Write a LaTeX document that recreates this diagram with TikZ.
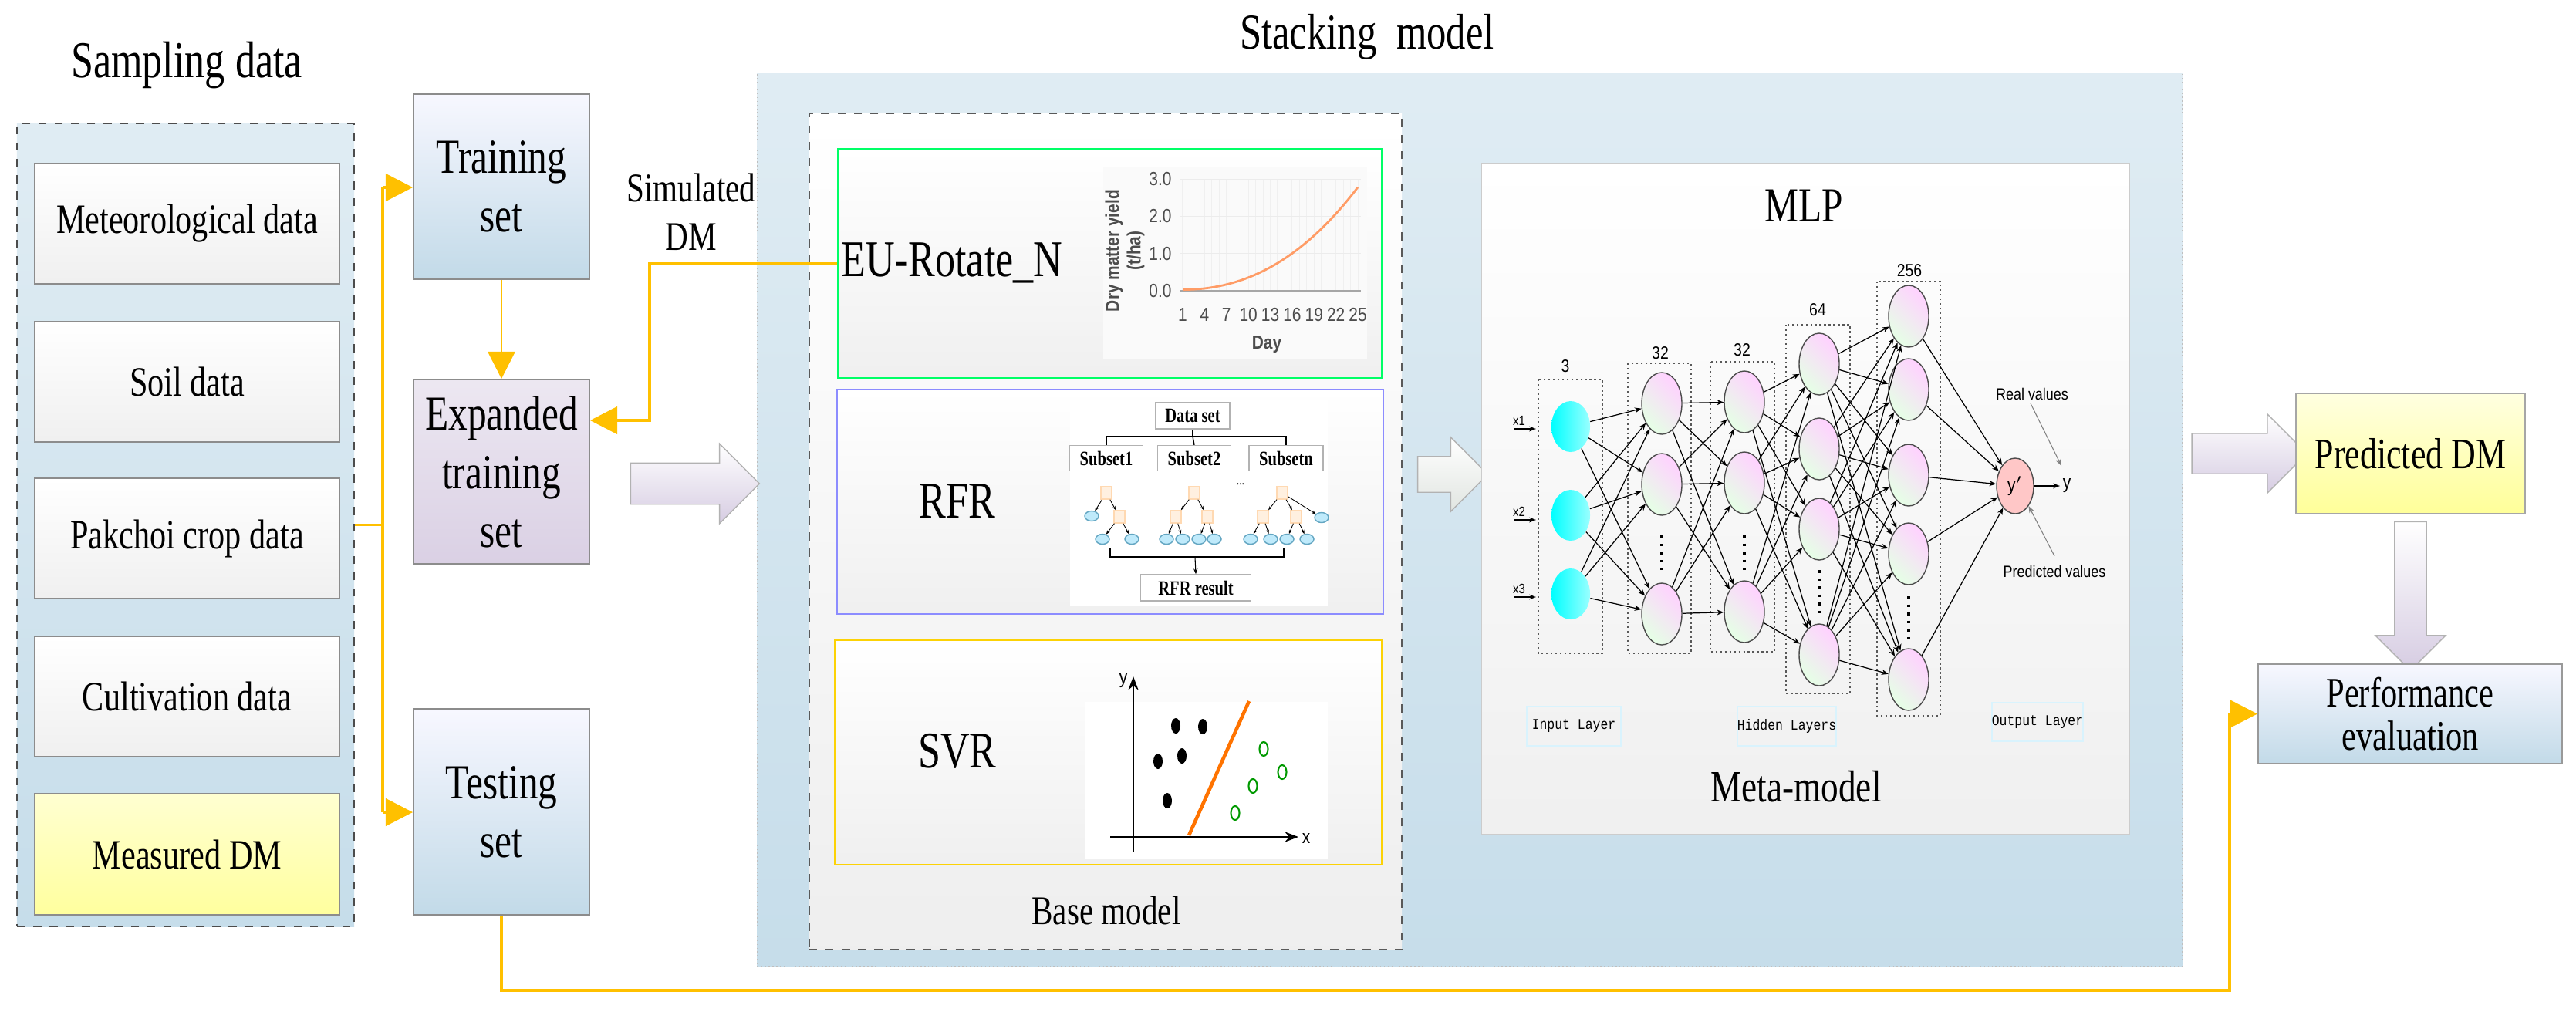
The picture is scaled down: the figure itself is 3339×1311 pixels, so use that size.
\documentclass[tikz,border=0pt]{standalone}
\usepackage{fontspec}
\setmainfont{Liberation Serif}[FakeStretch=0.78]
\newfontfamily\sansf{Liberation Sans}[FakeStretch=0.85]
\newfontfamily\monof{Liberation Mono}[FakeStretch=0.85]
\usetikzlibrary{shapes.geometric,shapes.arrows,arrows.meta}
\definecolor{gold}{HTML}{FFC000}
\definecolor{bluebg}{HTML}{C6DDEA}
\definecolor{lblue}{HTML}{C2DAE8}
\definecolor{lpurp}{HTML}{DAD0E4}
\definecolor{barr}{HTML}{D6CCE2}
\tikzset{
 fs/.style={font=\fontsize{#1}{\dimexpr #1pt*6/5\relax}\selectfont},
 dbox/.style={draw=gray!70!black,dashed,line width=0.6pt},
 gbox/.style={draw=gray!90,line width=0.5pt,top color=white,bottom color=gray!12,inner sep=0pt,align=center,fs=15.4},
 sbox/.style={draw=gray!90,line width=0.5pt,top color=blue!3!white,bottom color=lblue,inner sep=0pt,align=center,fs=18},
 oline/.style={draw=gold,line width=1.1pt},
 oarr/.style={oline,-{Triangle[length=10pt,width=10pt]}},
 barrow/.style={single arrow,draw=gray!60,top color=white,bottom color=barr,inner sep=0pt,outer sep=0pt},
 neu/.style={ellipse,draw=gray!60!black,line width=0.4pt,inner sep=0pt,minimum width=0.52cm,minimum height=0.8cm,left color=magenta!18,right color=green!10,shading angle=-45},
 inn/.style={ellipse,inner sep=0pt,minimum width=0.5cm,minimum height=0.66cm,left color=cyan,right color=cyan!40},
 ed/.style={line width=0.35pt,-{Stealth[length=2.5pt,width=2pt]}},
 ldot/.style={draw=gray!70!black,densely dotted,line width=0.7pt},
 tsq/.style={rectangle,draw=orange!30,fill=orange!12,minimum width=0.14cm,minimum height=0.16cm,inner sep=0pt},
 tel/.style={ellipse,draw=cyan!50!gray,fill=cyan!25,minimum width=0.18cm,minimum height=0.13cm,inner sep=0pt},
 tbox/.style={rectangle,draw=gray!60,fill=white,inner sep=0pt,font=\bfseries\fontsize{7.5}{7.5}\selectfont},
 lbox/.style={rectangle,draw=cyan!15,line width=0.6pt,inner sep=0pt,font=\monof\fontsize{5.5}{5.5}\selectfont},
 small/.style={font=\sansf\fontsize{#1}{#1}\selectfont}
}
\begin{document}
\begin{tikzpicture}[x=0.01cm,y=-0.01cm]
\useasboundingbox (0,0) rectangle (3339,1311);
\fill[white] (0,0) rectangle (3339,1311);
% titles
\node[fs=19] (t1) at (242,85) {Sampling data};
\node[fs=18.5] (t2) at (1772,48) {Stacking\ \ model};
% sampling box
\node[dbox,draw=gray!60!black,top color=bluebg!55,bottom color=bluebg,minimum width=4.37cm,minimum height=10.41cm,inner sep=0pt] (samp) at (240.5,680.5) {};
\node[gbox,minimum width=3.95cm,minimum height=1.56cm] (met) at (242.5,290) {Meteorological data};
\node[gbox,minimum width=3.95cm,minimum height=1.56cm] (soil) at (242.5,495) {Soil data};
\node[gbox,minimum width=3.95cm,minimum height=1.56cm] (pak) at (242.5,698) {Pakchoi crop data};
\node[gbox,minimum width=3.95cm,minimum height=1.56cm] (cul) at (242.5,903) {Cultivation data};
\node[gbox,top color=yellow!18,bottom color=yellow!38,minimum width=3.95cm,minimum height=1.57cm] (mdm) at (242.5,1107.5) {Measured DM};
% sets
\node[sbox,minimum width=2.28cm,minimum height=2.4cm] (train) at (650,242) {Training\\set};
\node[sbox,top color=white!50!lpurp,bottom color=lpurp,minimum width=2.28cm,minimum height=2.39cm] (exp) at (650,611.5) {Expanded\\training\\set};
\node[sbox,minimum width=2.28cm,minimum height=2.67cm] (test) at (650,1052.5) {Testing\\set};
\node[fs=15,align=center] (sim) at (896,275) {Simulated\\DM};
% stacking box
\node[draw=gray!50,densely dotted,top color=bluebg!55,bottom color=bluebg,minimum width=18.46cm,minimum height=11.58cm,inner sep=0pt] (stack) at (1905,674) {};
\node[dbox,top color=white,bottom color=gray!13,minimum width=7.68cm,minimum height=10.84cm,inner sep=0pt] (base) at (1433,689) {};
\node[fs=15] (bm) at (1434,1180) {Base model};
% EU box
\node[draw=green!60!cyan,line width=0.6pt,top color=white,bottom color=gray!12,minimum width=7.05cm,minimum height=2.97cm,inner sep=0pt] (eu) at (1438.5,341.5) {};
\fill[white!96!gray] (1430,216) rectangle (1772,465);
\foreach \d in {1,...,25}{\draw[gray!12,line width=0.3pt] ({1533+9.46*(\d-1)},232) -- ({1533+9.46*(\d-1)},377);}
\foreach \v in {1,2,3}{\draw[gray!15,line width=0.3pt] (1530,{377-48.3*\v}) -- (1764,{377-48.3*\v});}
\draw[gray!70,line width=0.4pt] (1530,377) -- (1764,377);
\draw[orange!70!red!60,line width=0.8pt] plot[domain=0:1,samples=40] ({1533+227*\x},{377-48.3*(0.03+2.75*\x*\x*(0.75+0.25*\x))});
\foreach \v in {0,1,2,3}{\node[small=7,gray!60!black] at (1504,{377-48.3*\v}) {\v.0};}
\foreach \d in {1,4,7,10,13,16,19,22,25}{\node[small=7,gray!60!black] at ({1533+9.46*(\d-1)},408) {\d};}
\node[font=\sansf\bfseries\fontsize{7}{7}\selectfont,gray!60!black] at (1642,447) {Day};
\node[font=\sansf\bfseries\fontsize{7}{8}\selectfont,gray!60!black,rotate=90,align=center] at (1458,325) {Dry matter yield\\(t/ha)};
\node[fs=19] (eut) at (1234,341) {EU-Rotate\_N};
% RFR box
\node[draw=blue!45,line width=0.6pt,top color=white,bottom color=gray!12,minimum width=7.08cm,minimum height=2.91cm,inner sep=0pt] (rfr) at (1439,650.5) {};
\fill[white] (1387,519) rectangle (1721,785);
\node[fs=19] (rfrt) at (1241,650) {RFR};
\node[tbox,minimum width=0.96cm,minimum height=0.34cm] (ds) at (1546,539) {Data set};
\node[tbox,minimum width=0.95cm,minimum height=0.33cm] (s1) at (1434,594) {Subset1};
\node[tbox,minimum width=0.95cm,minimum height=0.33cm] (s2) at (1548,594) {Subset2};
\node[tbox,minimum width=0.96cm,minimum height=0.33cm] (sn) at (1667,594) {Subsetn};
\node[tbox,minimum width=1.43cm,minimum height=0.34cm] (rr) at (1550,762) {RFR result};
\draw[line width=0.4pt] (ds.south) -- (1546,566);
\draw[line width=0.4pt] (s1.north) -- (1434,566) -- (1667,566) -- (sn.north);
\draw[line width=0.4pt] (1546,566) -- (s2.north);
\draw[line width=0.3pt] (1439,710) -- (1439,722) -- (1664,722) -- (1664,710);
\draw[line width=0.3pt,-{Stealth[length=2pt]}] (1549,722) -- (rr.north);
\node at (1608,628) {\fontsize{5}{5}\selectfont ...};
\node[tsq] (a0) at (1434,639) {}; \node[tel] (a1) at (1415,669) {}; \node[tsq] (a2) at (1451,670) {};
\node[tel] (a3) at (1429,699) {}; \node[tel] (a4) at (1467,699) {};
\foreach \p/\q in {a0/a1,a0/a2,a2/a3,a2/a4}{\draw[line width=0.25pt,-{Stealth[length=1.5pt]}] (\p) -- (\q);}
\node[tsq] (b0) at (1548,639) {}; \node[tsq] (b1) at (1524,670) {}; \node[tsq] (b2) at (1565,670) {};
\node[tel] (b3) at (1512,699) {}; \node[tel] (b4) at (1533,699) {}; \node[tel] (b5) at (1554,699) {}; \node[tel] (b6) at (1574,699) {};
\foreach \p/\q in {b0/b1,b0/b2,b1/b3,b1/b4,b2/b5,b2/b6}{\draw[line width=0.25pt,-{Stealth[length=1.5pt]}] (\p) -- (\q);}
\node[tsq] (c0) at (1662,639) {}; \node[tsq] (c1) at (1637,670) {}; \node[tsq] (c2) at (1680,670) {}; \node[tel] (c7) at (1713,671) {};
\node[tel] (c3) at (1621,699) {}; \node[tel] (c4) at (1647,699) {}; \node[tel] (c5) at (1668,699) {}; \node[tel] (c6) at (1694,699) {};
\foreach \p/\q in {c0/c1,c0/c2,c0/c7,c1/c3,c1/c4,c2/c5,c2/c6}{\draw[line width=0.25pt,-{Stealth[length=1.5pt]}] (\p) -- (\q);}
% SVR box
\node[draw=yellow!70!orange,line width=0.6pt,top color=white,bottom color=gray!12,minimum width=7.09cm,minimum height=2.91cm,inner sep=0pt] (svr) at (1436.5,975.5) {};
\fill[white] (1406,910) rectangle (1721,1113);
\node[fs=19] (svrt) at (1241,974) {SVR};
\draw[line width=0.7pt,-{Stealth[length=5pt]}] (1469,1104) -- (1469,877);
\draw[line width=0.7pt,-{Stealth[length=5pt]}] (1439,1085) -- (1683,1085);
\node[small=7] at (1456,883) {y};
\node[small=7] at (1693,1087) {x};
\foreach \p in {(1524,941),(1559,942),(1501,987),(1532,980),(1513,1038)}{\fill \p ellipse (6 and 10);}
\foreach \p in {(1638,971),(1662,1001),(1624,1019),(1601,1054)}{\draw[green!60!black,line width=0.6pt] \p ellipse (5.5 and 9);}
\draw[orange!90!red,line width=1.3pt] (1541,1083) -- (1619,909);
% block arrows
\node[barrow,minimum height=1.67cm,minimum width=1.03cm] (ar1) at (887.5,627) {\rule{0pt}{0.52cm}};
\node[barrow,minimum height=0.91cm,minimum width=0.89cm,top color=white,bottom color=green!8!gray!22] (ar2) at (1871.5,615) {\rule{0pt}{0.45cm}};
\node[barrow,minimum height=1.49cm,minimum width=1.02cm] (ar3) at (2902.5,588) {\rule{0pt}{0.51cm}};
\node[barrow,rotate=-90,minimum height=1.93cm,minimum width=0.79cm] (ar4) at (3124.5,762.5) {\rule{0pt}{0.4cm}};
% MLP box
\node[draw=gray!40,top color=white,bottom color=gray!12,minimum width=8.39cm,minimum height=8.69cm,inner sep=0pt] (mlp) at (2340.5,646.5) {};
\node[fs=18] (mlpt) at (2338,267) {MLP};
\node[fs=16.5] (meta) at (2328,1020) {Meta-model};
% layer boxes
\draw[ldot] (1994,492) rectangle (2077,847);
\draw[ldot] (2110,471) rectangle (2192,847);
\draw[ldot] (2217,469) rectangle (2300,845);
\draw[ldot] (2315,421) rectangle (2398,899);
\draw[ldot] (2433,365) rectangle (2515,928);
\foreach \t/\x/\y in {3/2029/475,32/2152/458,32/2258/454,64/2356/402,256/2475/351}{\node[small=6.5] at (\x,\y) {\t};}
\foreach \y [count=\i] in {553,668,770}{\node[inn] (A\i) at (2036,\y) {};}
\foreach \y [count=\i] in {523,628,796}{\node[neu] (B\i) at (2154,\y) {};}
\foreach \y [count=\i] in {521,626,793}{\node[neu] (C\i) at (2261,\y) {};}
\foreach \y [count=\i] in {472,582,686,849}{\node[neu] (D\i) at (2358,\y) {};}
\foreach \y [count=\i] in {410,505,616,718,881}{\node[neu] (E\i) at (2474,\y) {};}
\node[ellipse,draw=gray!60!black,fill=red!22,inner sep=0pt,minimum width=0.48cm,minimum height=0.72cm,small=7] (Y) at (2612,630) {y$'$};
\foreach \i in {1,2,3}{\foreach \j in {1,2,3}{\draw[ed] (A\i) -- (B\j);}}
\foreach \i in {1,2,3}{\foreach \j in {1,2,3}{\draw[ed] (B\i) -- (C\j);}}
\foreach \i in {1,2,3}{\foreach \j in {1,2,3,4}{\draw[ed] (C\i) -- (D\j);}}
\foreach \i in {1,2,3,4}{\foreach \j in {1,2,3,4,5}{\draw[ed] (D\i) -- (E\j);}}
\foreach \i in {1,2,3,4,5}{\draw[ed] (E\i) -- (Y);}
\foreach \x/\a/\b in {2154/694/739,2261/694/739,2358/739/795,2474/773/829}{\draw[line width=1pt,dotted] (\x,\a) -- (\x,\b);}
\foreach \y/\n [count=\i] in {556/1,674/2,774/3}{
 \node[small=5] (xl\i) at (1969,{\y-11}) {x\n};
 \coordinate (xs\i) at (1963,\y);
 \draw[line width=0.5pt,-{Stealth[length=2.5pt]}] (xs\i) -- (1991,\y);}
\coordinate (yend) at (2670,630);
\draw[line width=0.5pt,-{Stealth[length=2.5pt]}] (Y) -- (yend);
\node[small=7] (yl) at (2679,630) {y};
\node[small=6] (rv) at (2634,511) {Real values};
\node[small=6] (pv) at (2663,741) {Predicted values};
\coordinate (rva) at (2672,604);
\draw[gray,line width=0.3pt,-{Stealth[length=2.5pt]}] (2632,523) -- (rva);
\draw[gray,line width=0.3pt,-{Stealth[length=2.5pt]}] (pv.north) -- (Y.south east);
\node[lbox,minimum width=1.22cm,minimum height=0.51cm] (il) at (2040,941.5) {Input Layer};
\node[lbox,minimum width=1.18cm,minimum height=0.51cm] (hl) at (2316,941.5) {Hidden Layers};
\node[lbox,minimum width=1.07cm,minimum height=0.5cm] (ol) at (2641,936) {Output Layer};
% outputs
\node[draw=gray!70,top color=yellow!12,bottom color=yellow!40,minimum width=2.97cm,minimum height=1.56cm,inner sep=0pt,fs=16] (pdm) at (3124.5,588) {Predicted DM};
\node[draw=gray!80,line width=0.5pt,top color=blue!3!white,bottom color=lblue,minimum width=3.94cm,minimum height=1.29cm,inner sep=0pt,align=center,font=\fontsize{15.5}{16}\selectfont] (perf) at (3124,925.5) {Performance\\evaluation};
% orange connectors
\coordinate (j0) at (496,680.5);
\coordinate (j1) at (496,243);
\coordinate (j2) at (496,1053);
\draw[oline] (samp.east) -- (j0);
\draw[oline] (j1) -- (j2);
\draw[oarr] (j1) -- (j1 -| train.west);
\draw[oarr] (j2) -- (j2 -| test.west);
\draw[oarr,line width=0.8pt] (train.south) -- (exp.north);
\coordinate (k1) at (842,545);
\draw[oarr] (eu.west) -| (k1) -- (k1 -| exp.east);
\coordinate (k2) at (650,1284);
\coordinate (k3) at (2890,1284);
\draw[oarr] (test.south) -- (k2) -- (k3) |- (perf.west);
\end{tikzpicture}
\end{document}
